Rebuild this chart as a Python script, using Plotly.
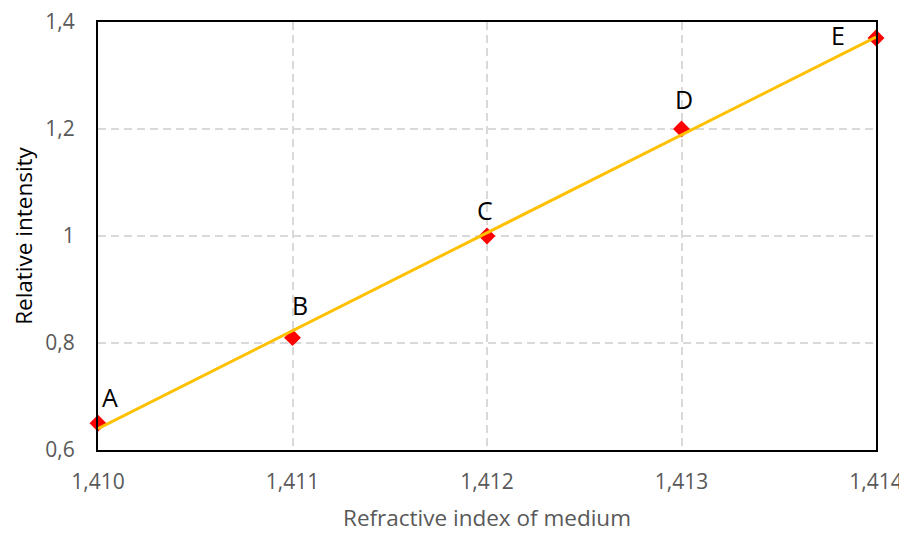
import numpy as np
import plotly.graph_objects as go

refractive_index = [1.410, 1.411, 1.412, 1.413, 1.414]
relative_intensity = [0.65, 0.81, 1.00, 1.20, 1.37]
point_labels = ["A", "B", "C", "D", "E"]
x_ticks = [1.410, 1.411, 1.412, 1.413, 1.414]
y_ticks = [0.6, 0.8, 1.0, 1.2, 1.4]

# linear trendline (least squares)
slope, intercept = np.polyfit(refractive_index, relative_intensity, 1)
trend_x = [refractive_index[0], refractive_index[-1]]
trend_y = [slope * x + intercept for x in trend_x]

fig = go.Figure()
fig.add_trace(go.Scatter(x=refractive_index, y=relative_intensity, mode="markers",
                         marker=dict(symbol="diamond", color="#FF0000", size=13),
                         cliponaxis=False, showlegend=False))
fig.add_trace(go.Scatter(x=trend_x, y=trend_y, mode="lines",
                         line=dict(color="#FFC000", width=3),
                         cliponaxis=False, showlegend=False))

label_shifts = [(12, 26), (7, 33), (-2, 26), (2, 30), (-38, 3)]
for xv, yv, t, (dx, dy) in zip(refractive_index, relative_intensity, point_labels, label_shifts):
    fig.add_annotation(x=xv, y=yv, text=t, showarrow=False, xshift=dx, yshift=dy,
                       font=dict(family="Open Sans", size=25, color="#000000"))

axis_common = dict(showline=True, linecolor="#000000", linewidth=2, mirror=True,
                   showgrid=True, gridcolor="#D9D9D9", griddash="8px,5px", gridwidth=1.5,
                   zeroline=False, ticks="", automargin=False, ticklabeloverflow="allow",
                   tickfont=dict(family="Open Sans", size=21, color="#595959"))

fig.update_xaxes(range=[1.410, 1.414], tickvals=x_ticks, tickformat=".3f",
                 title=dict(text="Refractive index of medium", standoff=18,
                            font=dict(family="Open Sans", size=22.5, color="#595959")),
                 ticklabelstandoff=12, **axis_common)
fig.update_yaxes(range=[0.6, 1.4], tickvals=y_ticks,
                 title=dict(text="Relative intensity", standoff=18,
                            font=dict(family="Open Sans", size=22.5, color="#000000")),
                 ticklabelstandoff=17, **axis_common)

fig.update_layout(width=899, height=525, margin=dict(l=90, r=31, t=14, b=83),
                  plot_bgcolor="white", paper_bgcolor="white", separators=",.")

fig.write_html("out.html")
